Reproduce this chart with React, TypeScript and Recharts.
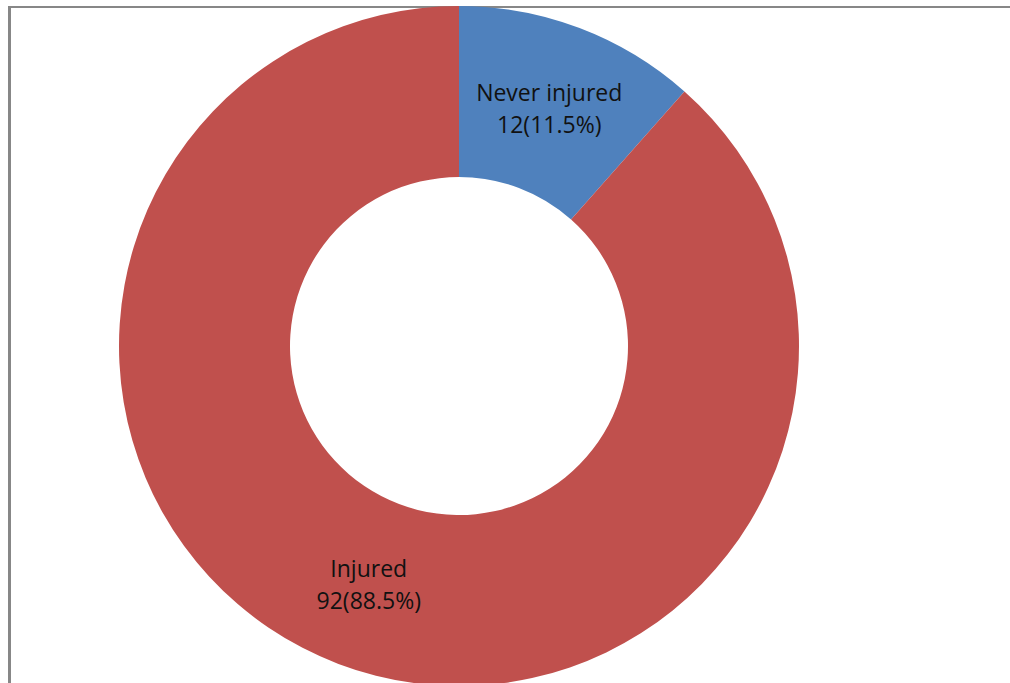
import { PieChart, Pie, Cell } from "recharts";

const categories = ["Never injured", "Injured"];
const counts = [12, 92];
const percents = ["11.5%", "88.5%"];
const colors = ["#4F81BD", "#C0504D"];

const data = categories.map((name, i) => ({
  name,
  value: counts[i],
  pct: percents[i],
}));

const RAD = Math.PI / 180;

function renderLabel(props: any) {
  const { cx, cy, midAngle, innerRadius, outerRadius, index } = props;
  const r = (innerRadius + outerRadius) / 2;
  const x = cx + r * Math.cos(-midAngle * RAD);
  const y = cy + r * Math.sin(-midAngle * RAD);
  const d = data[index];
  return (
    <text
      x={x}
      y={y}
      textAnchor="middle"
      fill="#111"
      fontSize={23}
      fontFamily="'Open Sans', 'Liberation Sans', sans-serif"
    >
      <tspan x={x} y={y - 7}>{d.name}</tspan>
      <tspan x={x} y={y + 25}>{`${d.value}(${d.pct})`}</tspan>
    </text>
  );
}

export default function App() {
  return (
    <div
      style={{
        position: "absolute",
        left: 0,
        top: 0,
        width: 1010,
        height: 683,
        overflow: "hidden",
        background: "#fff",
      }}
    >
      <div style={{ position: "absolute", left: 8, top: 6, width: 1002, height: 2, background: "#878787" }} />
      <div style={{ position: "absolute", left: 8, top: 6, width: 3, height: 677, background: "#878787" }} />
      <div style={{ position: "absolute", left: 0, top: 0 }}>
        <PieChart width={1010} height={683} margin={{ top: 0, right: 0, bottom: 0, left: 0 }}>
          <Pie
            data={data}
            dataKey="value"
            cx={459}
            cy={346}
            innerRadius={169}
            outerRadius={340}
            startAngle={90}
            endAngle={-270}
            stroke="none"
            labelLine={false}
            label={renderLabel}
            isAnimationActive={false}
          >
            {data.map((entry, index) => (
              <Cell key={`cell-${index}`} fill={colors[index]} />
            ))}
          </Pie>
        </PieChart>
      </div>
    </div>
  );
}
